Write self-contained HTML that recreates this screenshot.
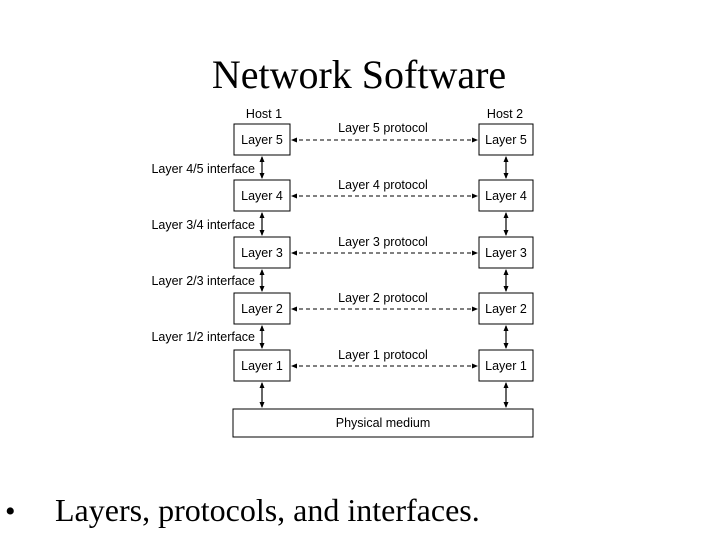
<!DOCTYPE html>
<html><head><style>
body{margin:0;background:#fff;}
</style></head><body>
<svg width="720" height="540" xmlns="http://www.w3.org/2000/svg" style="display:block">
<defs>
<marker id="a" markerWidth="6" markerHeight="6" refX="5" refY="3" orient="auto-start-reverse" markerUnits="userSpaceOnUse"><path d="M0,0.5 L6,3 L0,5.5z" fill="#000"/></marker>
</defs>
<text x="359" y="88" font-family="Liberation Serif, serif" font-size="40" text-anchor="middle">Network Software</text>
<g font-family="Liberation Sans, sans-serif" font-size="12.5" fill="#000">
<text x="264" y="118" text-anchor="middle">Host 1</text>
<text x="505" y="118" text-anchor="middle">Host 2</text>
<g stroke="#000" fill="none" stroke-width="1">
<rect x="234" y="124" width="56" height="31"/>
<rect x="479" y="124" width="54" height="31"/>
<rect x="234" y="180" width="56" height="31"/>
<rect x="479" y="180" width="54" height="31"/>
<rect x="234" y="237" width="56" height="31"/>
<rect x="479" y="237" width="54" height="31"/>
<rect x="234" y="293" width="56" height="31"/>
<rect x="479" y="293" width="54" height="31"/>
<rect x="234" y="350" width="56" height="31"/>
<rect x="479" y="350" width="54" height="31"/>
<rect x="233" y="409" width="300" height="28"/>
</g>
<g stroke="#000" stroke-width="1" stroke-dasharray="4,3" marker-start="url(#a)" marker-end="url(#a)">
<line x1="292" y1="140" x2="477" y2="140"/>
<line x1="292" y1="196" x2="477" y2="196"/>
<line x1="292" y1="253" x2="477" y2="253"/>
<line x1="292" y1="309" x2="477" y2="309"/>
<line x1="292" y1="366" x2="477" y2="366"/>
</g>
<g stroke="#000" stroke-width="1.2" marker-start="url(#a)" marker-end="url(#a)">
<line x1="262" y1="157" x2="262" y2="178"/><line x1="506" y1="157" x2="506" y2="178"/>
<line x1="262" y1="213" x2="262" y2="235"/><line x1="506" y1="213" x2="506" y2="235"/>
<line x1="262" y1="270" x2="262" y2="291"/><line x1="506" y1="270" x2="506" y2="291"/>
<line x1="262" y1="326" x2="262" y2="348"/><line x1="506" y1="326" x2="506" y2="348"/>
<line x1="262" y1="383" x2="262" y2="407"/><line x1="506" y1="383" x2="506" y2="407"/>
</g>
<g text-anchor="middle">
<text x="262" y="144">Layer 5</text><text x="506" y="144">Layer 5</text>
<text x="262" y="200">Layer 4</text><text x="506" y="200">Layer 4</text>
<text x="262" y="257">Layer 3</text><text x="506" y="257">Layer 3</text>
<text x="262" y="313">Layer 2</text><text x="506" y="313">Layer 2</text>
<text x="262" y="370">Layer 1</text><text x="506" y="370">Layer 1</text>
<text x="383" y="427">Physical medium</text>
<text x="383" y="132">Layer 5 protocol</text>
<text x="383" y="189">Layer 4 protocol</text>
<text x="383" y="246">Layer 3 protocol</text>
<text x="383" y="302">Layer 2 protocol</text>
<text x="383" y="359">Layer 1 protocol</text>
</g>
<g text-anchor="end">
<text x="255" y="173">Layer 4/5 interface</text>
<text x="255" y="229">Layer 3/4 interface</text>
<text x="255" y="285">Layer 2/3 interface</text>
<text x="255" y="341">Layer 1/2 interface</text>
</g>
</g>
<text x="5" y="521" font-family="Liberation Serif, serif" font-size="30">•</text>
<text x="55" y="521" font-family="Liberation Serif, serif" font-size="32">Layers, protocols, and interfaces.</text>
</svg>
</body></html>
